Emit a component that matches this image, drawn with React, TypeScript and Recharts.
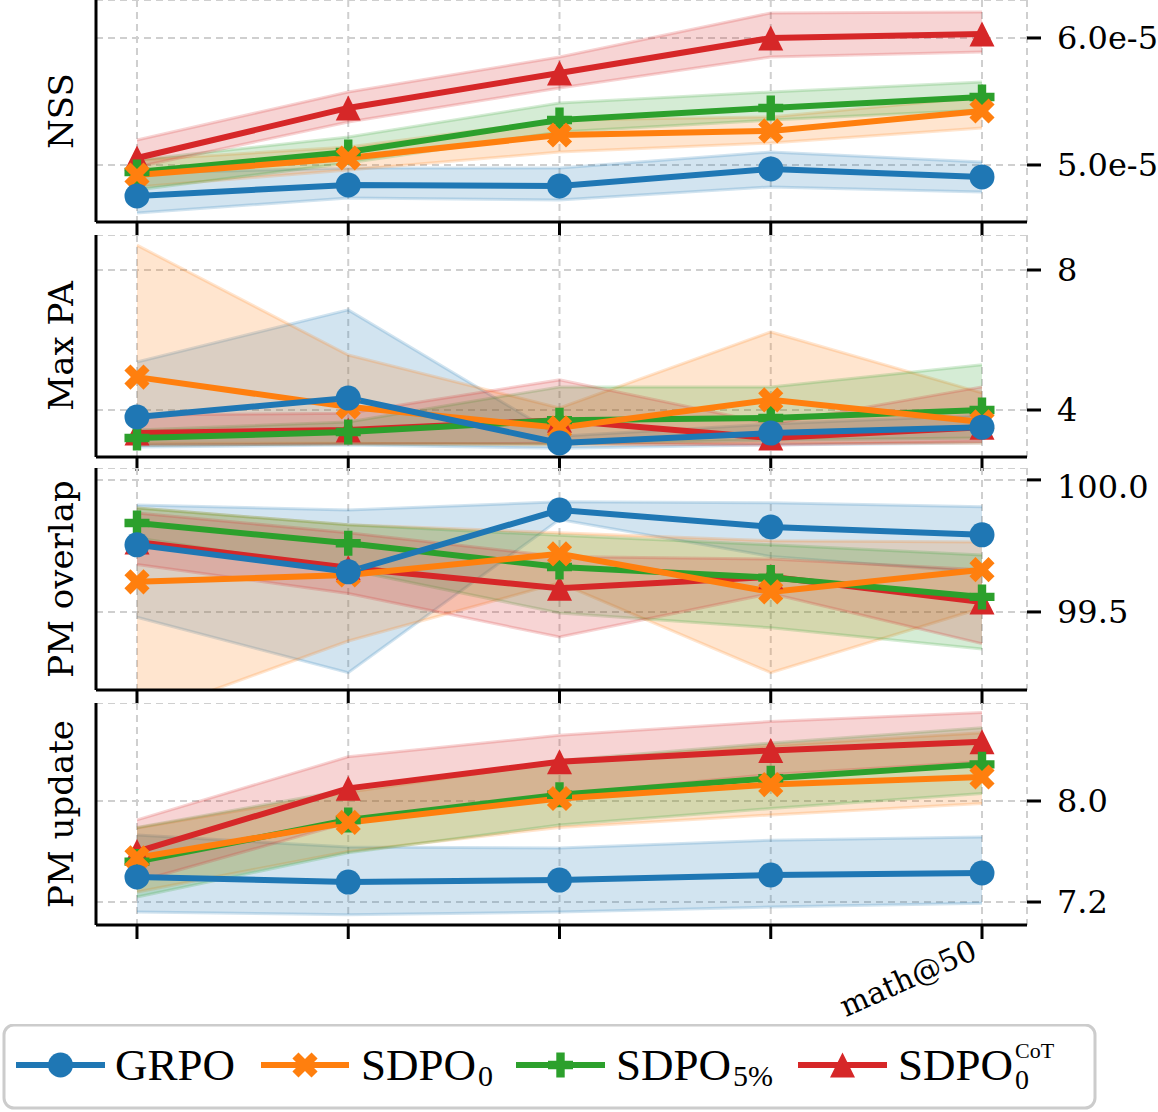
import { ComposedChart, Area, Line, XAxis, YAxis, CartesianGrid, ReferenceLine } from "recharts";

const W = 1158;
const PLOT_H = 222;
const xIdx = [0, 1, 2, 3, 4];
const xTickLabels = ["", "", "", "", "math@50"];
const X_DOMAIN: [number, number] = [-0.194, 4.213];

// NSS
const nssGrpo = [4.756e-5, 4.843e-5, 4.835e-5, 4.969e-5, 4.906e-5];
const nssGrpoLo = [4.622e-5, 4.74e-5, 4.724e-5, 4.827e-5, 4.787e-5];
const nssGrpoHi = [4.937e-5, 4.976e-5, 4.976e-5, 5.102e-5, 5.024e-5];
const nssSdpo0 = [4.921e-5, 5.055e-5, 5.236e-5, 5.268e-5, 5.425e-5];
const nssSdpo0Lo = [4.827e-5, 4.961e-5, 5.102e-5, 5.173e-5, 5.291e-5];
const nssSdpo0Hi = [5.039e-5, 5.142e-5, 5.354e-5, 5.378e-5, 5.535e-5];
const nssSdpo5 = [4.945e-5, 5.102e-5, 5.354e-5, 5.449e-5, 5.535e-5];
const nssSdpo5Lo = [4.803e-5, 5.016e-5, 5.26e-5, 5.354e-5, 5.433e-5];
const nssSdpo5Hi = [5.039e-5, 5.22e-5, 5.488e-5, 5.575e-5, 5.654e-5];
const nssCot = [5.055e-5, 5.449e-5, 5.724e-5, 6.0e-5, 6.031e-5];
const nssCotLo = [4.984e-5, 5.339e-5, 5.606e-5, 5.85e-5, 5.89e-5];
const nssCotHi = [5.197e-5, 5.575e-5, 5.85e-5, 6.197e-5, 6.205e-5];

// Max PA
const paGrpo = [3.8, 4.34, 3.06, 3.34, 3.51];
const paGrpoLo = [2.94, 3.0, 2.91, 3.0, 3.06];
const paGrpoHi = [5.37, 6.86, 3.25, 3.6, 3.85];
const paSdpo0 = [4.94, 4.09, 3.49, 4.29, 3.66];
const paSdpo0Lo = [3.05, 3.05, 3.0, 3.05, 3.05];
const paSdpo0Hi = [8.71, 5.57, 4.06, 6.23, 4.49];
const paSdpo5 = [3.2, 3.37, 3.71, 3.77, 4.0];
const paSdpo5Lo = [3.0, 3.03, 3.03, 3.14, 3.2];
const paSdpo5Hi = [3.43, 3.66, 4.66, 4.66, 5.29];
const paCot = [3.34, 3.43, 3.71, 3.2, 3.51];
const paCotLo = [3.0, 3.03, 3.05, 3.0, 3.1];
const paCotHi = [3.86, 3.91, 4.86, 3.6, 4.66];

// PM overlap
const ovGrpo = [99.754, 99.652, 99.886, 99.822, 99.792];
const ovGrpoLo = [99.48, 99.27, 99.85, 99.71, 99.65];
const ovGrpoHi = [99.905, 99.886, 99.917, 99.913, 99.898];
const ovSdpo0 = [99.614, 99.64, 99.72, 99.576, 99.66];
const ovSdpo0Lo = [99.1, 99.39, 99.61, 99.27, 99.515];
const ovSdpo0Hi = [99.894, 99.83, 99.8, 99.77, 99.765];
const ovSdpo5 = [99.837, 99.76, 99.67, 99.63, 99.557];
const ovSdpo5Lo = [99.78, 99.66, 99.496, 99.44, 99.36];
const ovSdpo5Hi = [99.894, 99.83, 99.79, 99.754, 99.716];
const ovCot = [99.765, 99.667, 99.59, 99.633, 99.538];
const ovCotLo = [99.68, 99.57, 99.405, 99.57, 99.38];
const ovCotHi = [99.875, 99.8, 99.71, 99.7, 99.66];

// PM update
const upGrpo = [7.398, 7.358, 7.374, 7.414, 7.43];
const upGrpoLo = [7.12, 7.1, 7.12, 7.16, 7.19];
const upGrpoHi = [7.73, 7.636, 7.628, 7.69, 7.715];
const upSdpo0 = [7.55, 7.83, 8.02, 8.13, 8.19];
const upSdpo0Lo = [7.28, 7.6, 7.79, 7.89, 7.98];
const upSdpo0Hi = [7.786, 8.07, 8.31, 8.44, 8.54];
const upSdpo5 = [7.52, 7.85, 8.05, 8.18, 8.29];
const upSdpo5Lo = [7.24, 7.59, 7.81, 7.94, 8.06];
const upSdpo5Hi = [7.79, 8.09, 8.32, 8.46, 8.58];
const upCot = [7.6, 8.1, 8.31, 8.4, 8.47];
const upCotLo = [7.36, 7.83, 8.05, 8.21, 8.31];
const upCotHi = [7.85, 8.35, 8.52, 8.63, 8.7];

type Shape = "circle" | "x" | "plus" | "triangle";
const SERIES: { key: string; color: string; shape: Shape }[] = [
  { key: "grpo", color: "#1f77b4", shape: "circle" },
  { key: "sdpo0", color: "#ff7f0e", shape: "x" },
  { key: "sdpo5", color: "#2ca02c", shape: "plus" },
  { key: "cot", color: "#d62728", shape: "triangle" },
];

function buildRows(cols: Record<string, [number[], number[], number[]]>) {
  return xIdx.map((x, i) => {
    const row: Record<string, any> = { x };
    Object.entries(cols).forEach(([k, [mean, lo, hi]]) => {
      row[k] = mean[i];
      row[k + "Band"] = [lo[i], hi[i]];
    });
    return row;
  });
}

function plusPoints(cx: number, cy: number, s: number, a: number, rot: number) {
  const pts = [
    [-a, -s], [a, -s], [a, -a], [s, -a], [s, a], [a, a],
    [a, s], [-a, s], [-a, a], [-s, a], [-s, -a], [-a, -a],
  ];
  const c = Math.cos(rot), sn = Math.sin(rot);
  return pts.map(([px, py]) => `${cx + px * c - py * sn},${cy + px * sn + py * c}`).join(" ");
}

function Marker({ shape, cx, cy, color }: { shape: Shape; cx: number; cy: number; color: string }) {
  if (shape === "circle") return <circle cx={cx} cy={cy} r={12.5} fill={color} />;
  if (shape === "triangle")
    return <polygon points={`${cx},${cy - 12.5} ${cx - 12.5},${cy + 12.5} ${cx + 12.5},${cy + 12.5}`} fill={color} />;
  if (shape === "plus") return <polygon points={plusPoints(cx, cy, 12.5, 4.2, 0)} fill={color} />;
  return <polygon points={plusPoints(cx, cy, 13.5, 4.3, Math.PI / 4)} fill={color} />;
}

const serif = "DejaVu Serif";

const panels = [
  {
    label: "NSS", top: 0, domain: [4.551e-5, 6.299e-5], ticks: [5e-5, 6e-5],
    fmt: (v: number) => v.toExponential(1),
    data: buildRows({
      grpo: [nssGrpo, nssGrpoLo, nssGrpoHi], sdpo0: [nssSdpo0, nssSdpo0Lo, nssSdpo0Hi],
      sdpo5: [nssSdpo5, nssSdpo5Lo, nssSdpo5Hi], cot: [nssCot, nssCotLo, nssCotHi],
    }),
  },
  {
    label: "Max PA", top: 235, domain: [2.657, 9.0], ticks: [4, 8],
    fmt: (v: number) => String(v),
    data: buildRows({
      grpo: [paGrpo, paGrpoLo, paGrpoHi], sdpo0: [paSdpo0, paSdpo0Lo, paSdpo0Hi],
      sdpo5: [paSdpo5, paSdpo5Lo, paSdpo5Hi], cot: [paCot, paCotLo, paCotHi],
    }),
  },
  {
    label: "PM overlap", top: 468, domain: [99.2045, 100.045], ticks: [99.5, 100.0],
    fmt: (v: number) => v.toFixed(1),
    data: buildRows({
      grpo: [ovGrpo, ovGrpoLo, ovGrpoHi], sdpo0: [ovSdpo0, ovSdpo0Lo, ovSdpo0Hi],
      sdpo5: [ovSdpo5, ovSdpo5Lo, ovSdpo5Hi], cot: [ovCot, ovCotLo, ovCotHi],
    }),
  },
  {
    label: "PM update", top: 703, domain: [7.018, 8.776], ticks: [7.2, 8.0],
    fmt: (v: number) => v.toFixed(1),
    data: buildRows({
      grpo: [upGrpo, upGrpoLo, upGrpoHi], sdpo0: [upSdpo0, upSdpo0Lo, upSdpo0Hi],
      sdpo5: [upSdpo5, upSdpo5Lo, upSdpo5Hi], cot: [upCot, upCotLo, upCotHi],
    }),
  },
];

const XTick = (props: any) => {
  const { x, y, payload } = props;
  const label = xTickLabels[payload.value];
  if (!label) return <g />;
  const tx = x - 3;
  const ty = y + 17;
  return (
    <text x={tx} y={ty} transform={`rotate(-24, ${tx}, ${ty})`} textAnchor="end"
      fontFamily={serif} fontSize={30} fill="#000">
      {label}
    </text>
  );
};

function Panel({ p, last }: { p: (typeof panels)[number]; last: boolean }) {
  const axisH = last ? 100 : 16;
  const height = PLOT_H + axisH;
  // lines stacked so GRPO ends up on top
  const lineOrder = [...SERIES].reverse();
  return (
    <div style={{ position: "absolute", left: 0, top: p.top, width: W, height }}>
      <ComposedChart width={W} height={height} data={p.data} margin={{ top: 0, right: 0, bottom: 0, left: 96 }}>
        <CartesianGrid stroke="#cfcfcf" strokeWidth={2} strokeDasharray="7 5" />
        <XAxis type="number" dataKey="x" domain={X_DOMAIN} ticks={xIdx} allowDataOverflow interval={0}
          height={axisH} axisLine={{ stroke: "#000", strokeWidth: 3 }} tickLine={{ stroke: "#000", strokeWidth: 3 }}
          tickSize={14} tick={last ? <XTick /> : () => <g />} />
        <YAxis orientation="right" width={131} domain={p.domain} ticks={p.ticks} allowDataOverflow
          axisLine={false} tickLine={{ stroke: "#000", strokeWidth: 3 }} tickSize={14} tickMargin={16}
          tickFormatter={p.fmt} tick={{ fontFamily: serif, fontSize: 32, fill: "#000" }} />
        <ReferenceLine x={X_DOMAIN[0]} stroke="#000" strokeWidth={3} />
        {SERIES.map((s) => (
          <Area key={s.key + "-band"} type="linear" dataKey={s.key + "Band"} stroke={s.color} strokeOpacity={0.2}
            strokeWidth={3} fill={s.color} fillOpacity={0.2} dot={false} activeDot={false} isAnimationActive={false} />
        ))}
        {lineOrder.map((s) => (
          <Line key={s.key} type="linear" dataKey={s.key} stroke={s.color} strokeWidth={6} activeDot={false}
            isAnimationActive={false}
            dot={(d: any) => <Marker key={`${s.key}-${d.index}`} shape={s.shape} cx={d.cx} cy={d.cy} color={s.color} />} />
        ))}
      </ComposedChart>
    </div>
  );
}

function Legend() {
  const legendFont = "Liberation Serif";
  const items = [
    { s: SERIES[0], x0: 16, x1: 105 },
    { s: SERIES[1], x0: 261, x1: 349 },
    { s: SERIES[2], x0: 516, x1: 605 },
    { s: SERIES[3], x0: 798, x1: 887 },
  ];
  const ly = 45;
  const by = 60;
  return (
    <svg width={W} height={88} style={{ position: "absolute", left: 0, top: 1024 }} viewBox="0 4 1158 88">
      <rect x={4} y={5} width={1091} height={83} rx={10} fill="#fff" stroke="#cccccc" strokeWidth={3} />
      {items.map(({ s, x0, x1 }) => (
        <g key={s.key}>
          <line x1={x0} x2={x1} y1={ly} y2={ly} stroke={s.color} strokeWidth={6} />
          <Marker shape={s.shape} cx={(x0 + x1) / 2} cy={ly} color={s.color} />
        </g>
      ))}
      <g fontFamily={legendFont} fill="#000">
        <text x={115} y={by} fontSize={45}>GRPO</text>
        <text x={361} y={by} fontSize={45}>SDPO</text>
        <text x={478} y={by + 6} fontSize={30}>0</text>
        <text x={616} y={by} fontSize={45}>SDPO</text>
        <text x={733} y={by + 6} fontSize={30}>5%</text>
        <text x={898} y={by} fontSize={45}>SDPO</text>
        <text x={1015} y={by + 9} fontSize={28}>0</text>
        <text x={1015} y={by - 22} fontSize={22}>CoT</text>
      </g>
    </svg>
  );
}

export default function App() {
  return (
    <div style={{ position: "absolute", left: 0, top: 0, width: W, height: 1112, background: "#fff" }}>
      {panels.map((p, i) => (
        <Panel key={p.label} p={p} last={i === panels.length - 1} />
      ))}
      <svg width={96} height={930} style={{ position: "absolute", left: 0, top: 0 }}>
        {panels.map((p) => {
          const cy = p.top + PLOT_H / 2;
          return (
            <text key={p.label} transform={`translate(73, ${cy}) rotate(-90)`} textAnchor="middle"
              fontFamily={serif} fontSize={34} fill="#000">
              {p.label}
            </text>
          );
        })}
      </svg>
      <Legend />
    </div>
  );
}
